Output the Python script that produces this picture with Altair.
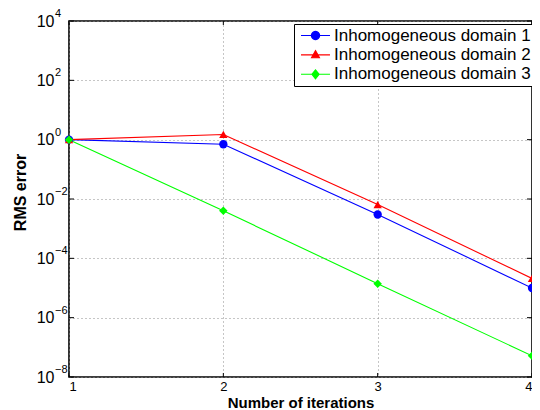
import math
import altair as alt
import pandas as pd

# ---- data ----
iterations = [1, 2, 3, 4]
domain1 = [1.0, 0.70, 3.0e-3, 1.0e-5]
domain2 = [1.0, 1.5, 6.5e-3, 2.1e-5]
domain3 = [1.0, 4.0e-3, 1.4e-5, 5.2e-8]
series_names = ["Inhomogeneous domain 1", "Inhomogeneous domain 2", "Inhomogeneous domain 3"]
series_colors = ["#0000ff", "#ff0000", "#00ff00"]
x_ticks = [1, 2, 3, 4]
y_ticks = [1e-8, 1e-6, 1e-4, 1e-2, 1.0, 1e2, 1e4]
y_exponents = ["\u22128", "\u22126", "\u22124", "\u22122", "0", "2", "4"]

rows = []
for name, vals in zip(series_names, [domain1, domain2, domain3]):
    for it, v in zip(iterations, vals):
        rows.append({"iter": it, "rms": v, "series": name})
df = pd.DataFrame(rows)
yticks_df = pd.DataFrame({"rms": y_ticks, "exp": y_exponents})
xticks_df = pd.DataFrame({"iter": x_ticks})

W, H = 463, 356
FONT = "Liberation Sans"


# ---- legend symbols: line with marker (custom SVG paths) ----
def polygon(pts):
    return "M" + "L".join(f"{x:.3f},{y:.3f}" for x, y in pts) + "Z"

line_part = "M-2,0L2,0"
circ = polygon([(0.57 * math.cos(2 * math.pi * k / 24), 0.57 * math.sin(2 * math.pi * k / 24)) for k in range(24)])
tri = polygon([(0, -0.6), (0.55, 0.4), (-0.55, 0.4)])
dia = polygon([(0, -0.62), (0.5, 0), (0, 0.62), (-0.5, 0)])
legend_shapes = [line_part + circ, line_part + tri, line_part + dia]
marker_shapes = ["circle", "triangle-up", "diamond"]
marker_sizes = [69, 70, 72]

xscale = alt.Scale(domain=[1, 4], nice=False, zero=False)
yscale = alt.Scale(type="log", domain=[1e-8, 1e4], nice=False)
color_scale = alt.Scale(domain=series_names, range=series_colors)
shape_scale = alt.Scale(domain=series_names, range=legend_shapes)

x_enc = alt.X(
    "iter:Q",
    scale=xscale,
    axis=alt.Axis(
        values=x_ticks, format="d", title="Number of iterations",
        labelPadding=3, labelFontSize=13,
        titleY=30.5, titleBaseline="alphabetic", titleFontSize=15,
    ),
)
y_enc = alt.Y(
    "rms:Q",
    scale=yscale,
    axis=alt.Axis(
        values=y_ticks, labelExpr="'10'", title="RMS error",
        labelPadding=15, titleX=-44, titleY=171, titleBaseline="alphabetic",
    ),
)

base = alt.Chart(df)

leg = alt.Legend(
    title=None, orient="none", legendX=225, legendY=3,
    strokeColor="black", fillColor="white", padding=3,
    symbolSize=210, symbolStrokeWidth=1.1, symbolOffset=10, symbolOpacity=1,
    labelOffset=10, labelFont=FONT, labelFontSize=17, labelColor="black",
    labelLimit=0, rowPadding=1.4, cornerRadius=0,
)
legend_layer = base.mark_point(filled=True, opacity=0, size=1).encode(
    x=x_enc, y=y_enc,
    color=alt.Color("series:N", scale=color_scale, legend=leg),
    shape=alt.Shape("series:N", scale=shape_scale, legend=leg),
)

lines = base.mark_line(strokeWidth=1.1).encode(
    x="iter:Q", y="rms:Q",
    color=alt.Color("series:N", scale=color_scale, legend=None),
    detail="series:N",
)

point_layers = []
for name, shp, sz in zip(series_names, marker_shapes, marker_sizes):
    point_layers.append(
        base.transform_filter(alt.datum.series == name)
        .mark_point(shape=shp, size=sz, filled=True, opacity=1)
        .encode(
            x="iter:Q", y="rms:Q",
            color=alt.Color("series:N", scale=color_scale, legend=None),
        )
    )

# inward tick marks (MATLAB style), positioned by the scales from the tick lists
tick_color = "black"
xt = alt.Chart(xticks_df)
yt = alt.Chart(yticks_df)
ticks_bottom = xt.mark_rule(color=tick_color, strokeWidth=1).encode(
    x="iter:Q", y=alt.value(H), y2=alt.value(H - 4))
ticks_top = xt.mark_rule(color=tick_color, strokeWidth=1).encode(
    x="iter:Q", y=alt.value(0), y2=alt.value(4))
ticks_left = yt.mark_rule(color=tick_color, strokeWidth=1).encode(
    y="rms:Q", x=alt.value(0), x2=alt.value(5))
ticks_right = yt.mark_rule(color=tick_color, strokeWidth=1).encode(
    y="rms:Q", x=alt.value(W), x2=alt.value(W - 5))

exps = yt.mark_text(
    align="left", baseline="middle", dy=-7, fontSize=11, font=FONT, color="black"
).encode(
    y="rms:Q",
    x=alt.value(-14),
    text="exp:N",
)

chart = alt.layer(
    legend_layer, ticks_bottom, ticks_top, ticks_left, ticks_right,
    lines, *point_layers, exps
).properties(
    width=W, height=H,
    autosize=alt.AutoSizeParams(type="none"),
    padding={"left": 61, "top": 13, "right": 0, "bottom": 33},
).configure_view(
    stroke="black", strokeWidth=1.6
).configure_axis(
    grid=True, gridColor="#8c8c8c", gridDash=[1, 3], gridWidth=1,
    domain=False, ticks=False,
    labelFont=FONT, labelFontSize=16, labelColor="black",
    titleFont=FONT, titleFontSize=16, titleFontWeight="bold", titleColor="black",
)

chart.save("out.html", embed_options={"renderer": "svg", "actions": False})
